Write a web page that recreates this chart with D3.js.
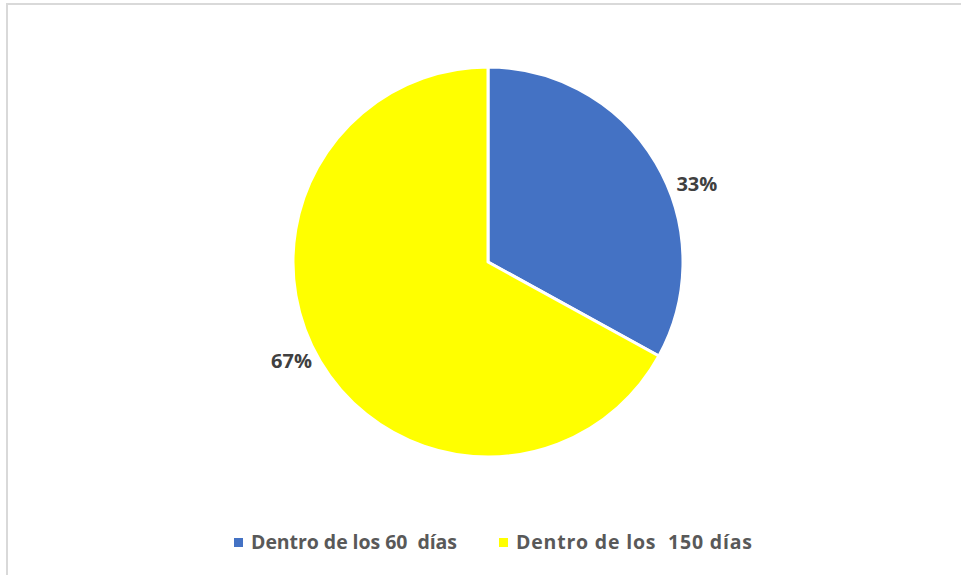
<!DOCTYPE html>
<html><head><meta charset="utf-8">
<script src="https://cdn.jsdelivr.net/npm/d3@7"></script>
<style>body{margin:0;background:#fff}svg{display:block}</style>
</head><body>
<svg id="c" width="961" height="575"></svg>
<script>
const categories = ["Dentro de los 60  días", "Dentro de los  150 días"];
const values = [33, 67];
const colors = ["#4472C4", "#FFFF00"];

const svg = d3.select("#c");
svg.append("rect").attr("x", 7).attr("y", 4).attr("width", 970).attr("height", 590)
  .attr("fill", "#fff").attr("stroke", "#d9d9d9").attr("stroke-width", 2);

const cx = 488, cy = 262, r = 195;
const pie = d3.pie().sort(null).value(d => d)(values);
const arc = d3.arc().innerRadius(0).outerRadius(r);
const g = svg.append("g").attr("transform", `translate(${cx},${cy})`);
g.selectAll("path").data(pie).join("path")
  .attr("d", arc).attr("fill", (d, i) => colors[i])
  .attr("stroke", "#fff").attr("stroke-width", 3).attr("stroke-linejoin", "round");

// label placement (best-fit style): fraction along slice, radial distance
const labelFrac = [0.585, 0.516];
const labelDist = [r + 28, r + 25];
const font = "'Open Sans', 'Liberation Sans', sans-serif";
g.selectAll("text.lbl").data(pie).join("text").attr("class", "lbl")
  .attr("transform", (d, i) => {
    const a = d.startAngle + (d.endAngle - d.startAngle) * labelFrac[i];
    const [x, y] = d3.pointRadial(a, labelDist[i]);
    return `translate(${x},${y})`;
  })
  .attr("text-anchor", "middle").attr("dy", "0.35em")
  .attr("font-family", font).attr("font-weight", "bold").attr("font-size", 20)
  .attr("fill", "#404040")
  .text(d => d.data + "%");

const legX = [234, 499];
const legW = [206, 236];
const lg = svg.append("g");
categories.forEach((c, i) => {
  lg.append("rect").attr("x", legX[i]).attr("y", 538).attr("width", 9).attr("height", 9).attr("fill", colors[i]);
  lg.append("text").attr("x", legX[i] + 17).attr("y", 549)
    .attr("font-family", font).attr("font-weight", "bold").attr("font-size", 19.5)
    .attr("fill", "#595959").attr("xml:space", "preserve").style("white-space", "pre")
    .attr("textLength", legW[i]).attr("lengthAdjust", "spacing")
    .text(c);
});
</script>
</body></html>
